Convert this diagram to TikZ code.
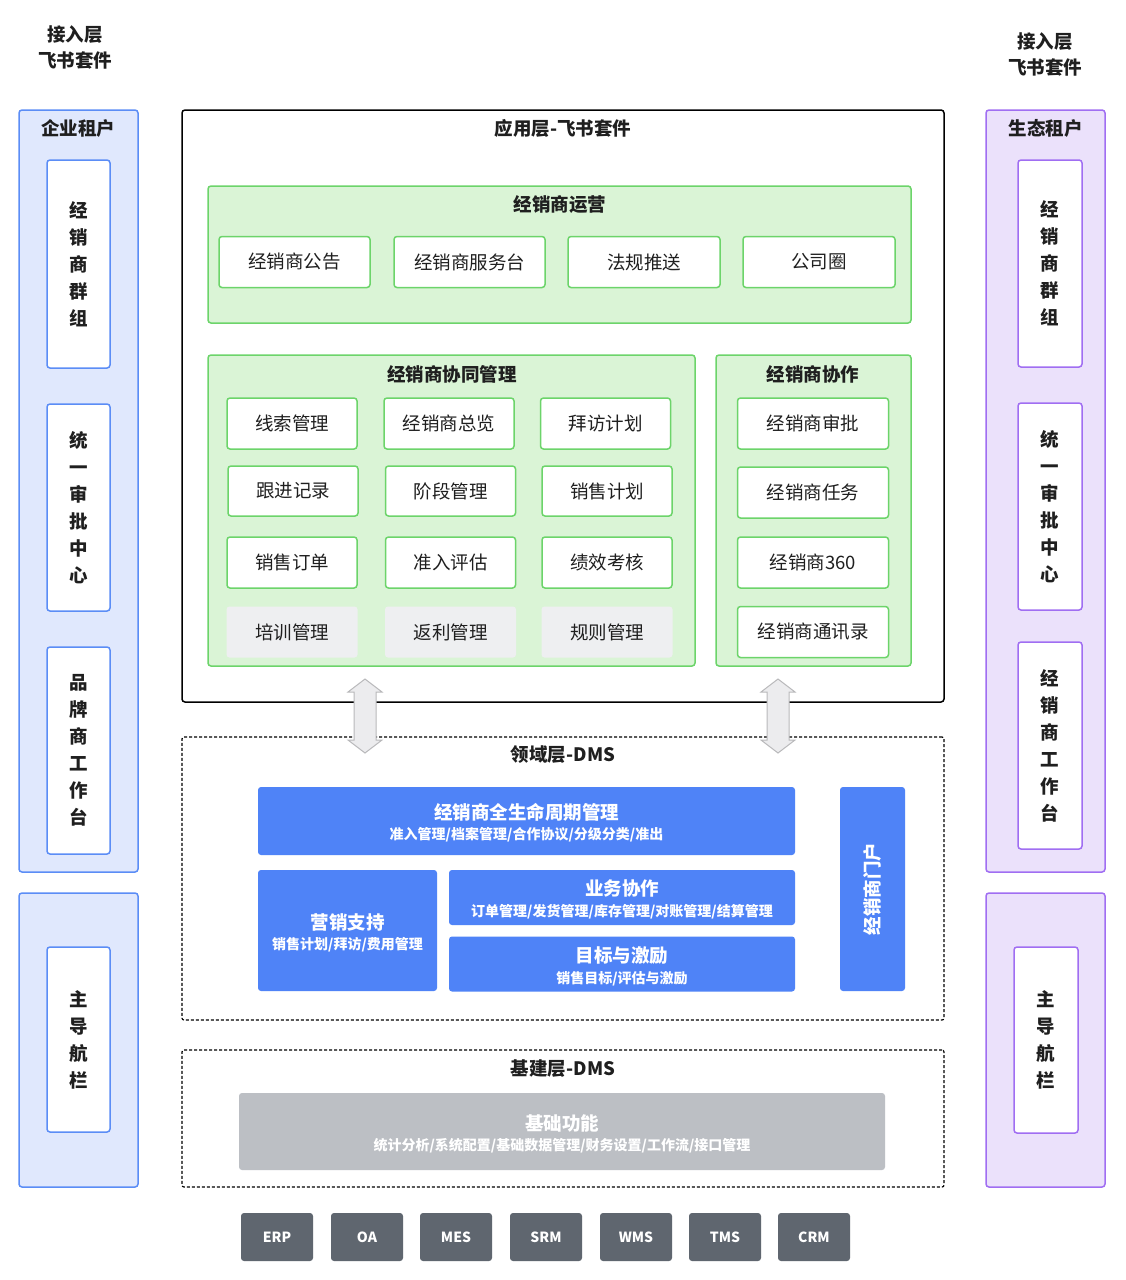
\documentclass[tikz,border=0pt]{standalone}
\usepackage{fontspec}
\setmainfont{Noto Sans CJK SC}
\usetikzlibrary{positioning}
\definecolor{txt}{HTML}{1F1F1F}
\definecolor{bfill}{HTML}{E0E8FD}
\definecolor{bline}{HTML}{5B8DF6}
\definecolor{pfill}{HTML}{EBE1FB}
\definecolor{pline}{HTML}{A06EF2}
\definecolor{gfill}{HTML}{DAF4D6}
\definecolor{gline}{HTML}{6CD46A}
\definecolor{cellgray}{HTML}{EEEFF1}
\definecolor{dmsblue}{HTML}{4F83F7}
\definecolor{basegray}{HTML}{BCBFC4}
\definecolor{sysgray}{HTML}{5F666F}
\definecolor{arrfill}{HTML}{ECECEE}
\definecolor{arrline}{HTML}{B9B9BB}
\tikzset{
  ttl/.style={font=\bfseries\fontsize{18.5}{22}\selectfont, text=txt, align=center},
  rect/.style={rounded corners=3pt, line width=1.5pt, inner sep=0pt, outer sep=0pt},
  bpanel/.style={rect, draw=bline, fill=bfill},
  ppanel/.style={rect, draw=pline, fill=pfill},
  bcell/.style={rect, draw=bline, fill=white},
  pcell/.style={rect, draw=pline, fill=white},
  vtxt/.style={font=\bfseries\fontsize{18.5}{27}\selectfont, text=txt, align=center},
  gpanel/.style={rect, draw=gline, fill=gfill},
  gcell/.style={rect, draw=gline, fill=white, font=\fontsize{18.5}{22}\selectfont, text=txt},
  ecell/.style={rect, fill=cellgray, font=\fontsize{18.5}{22}\selectfont, text=txt},
  dashbox/.style={draw=black, line width=1.2pt, dash pattern=on 3pt off 2pt, rounded corners=2pt},
  dms/.style={rect, fill=dmsblue, text=white, align=center},
  sys/.style={rect, fill=sysgray, text=white, font=\bfseries\fontsize{14}{16}\selectfont, minimum width=72, minimum height=48},
  dbl/.style={draw=arrline, fill=arrfill, line width=1pt, line join=miter},
}
\newcommand\bigtx[1]{{\bfseries\fontsize{18.5}{22}\selectfont #1}}
\newcommand\smltx[1]{{\bfseries\fontsize{14}{16}\selectfont #1}}
\begin{document}
\begin{tikzpicture}[x=1pt,y=-1pt]
\useasboundingbox[fill=white] (0,0) rectangle (1125,1280);

% access layer labels
\node[ttl] (accL) at (75,47) {接入层\\[4pt]飞书套件};
\node[ttl] (accR) at (1045,54) {接入层\\[4pt]飞书套件};

% left tenant panels
\node[bpanel, minimum width=119, minimum height=762] (entP) at (78.5,491) {};
\node[ttl] (entT) at (78.5,128) {企业租户};
\node[bcell, minimum width=63, minimum height=208] (lc1) at (78.5,264) {};
\node[vtxt] at (lc1) {经\\销\\商\\群\\组};
\node[bcell, minimum width=63, minimum height=207] (lc2) at (78.5,507.5) {};
\node[vtxt] at (lc2) {统\\一\\审\\批\\中\\心};
\node[bcell, minimum width=63, minimum height=207] (lc3) at (78.5,750.5) {};
\node[vtxt] at (lc3) {品\\牌\\商\\工\\作\\台};
\node[bpanel, minimum width=119, minimum height=294] (entN) at (78.5,1040) {};
\node[bcell, minimum width=63, minimum height=185] (lc4) at (78.5,1039.5) {};
\node[vtxt] at (lc4) {主\\导\\航\\栏};

% right tenant panels
\node[ppanel, minimum width=119, minimum height=762] (ecoP) at (1045.5,491) {};
\node[ttl] (ecoT) at (1045.5,128) {生态租户};
\node[pcell, minimum width=64, minimum height=207] (rc1) at (1050,263.5) {};
\node[vtxt] at (rc1) {经\\销\\商\\群\\组};
\node[pcell, minimum width=64, minimum height=207] (rc2) at (1050,506.5) {};
\node[vtxt] at (rc2) {统\\一\\审\\批\\中\\心};
\node[pcell, minimum width=64, minimum height=207] (rc3) at (1050,745.5) {};
\node[vtxt] at (rc3) {经\\销\\商\\工\\作\\台};
\node[ppanel, minimum width=119, minimum height=294] (ecoN) at (1045.5,1040) {};
\node[pcell, minimum width=64, minimum height=186] (rc4) at (1046,1040) {};
\node[vtxt] at (rc4) {主\\导\\航\\栏};

% application layer
\node[rect, draw=black, fill=white, rounded corners=3pt, minimum width=762, minimum height=592] (app) at (563,406) {};
\node[ttl] (appT) at (563,128) {应用层-飞书套件};

% dealer operation
\node[gpanel, minimum width=703, minimum height=137] (ops) at (559.5,254.5) {};
\node[ttl] (opsT) at (560,205) {经销商运营};
\node[gcell, minimum width=151, minimum height=51] (o1) at (294.5,262) {经销商公告};
\node[gcell, minimum width=151, minimum height=51] (o2) at (469.5,262) {经销商服务台};
\node[gcell, minimum width=152, minimum height=51] (o3) at (644,262) {法规推送};
\node[gcell, minimum width=152, minimum height=51] (o4) at (819,262) {公司圈};

% collaborative management
\node[gpanel, minimum width=487, minimum height=311] (col) at (451.5,510.5) {};
\node[ttl] (colT) at (452,374) {经销商协同管理};
\node[gcell, minimum width=130, minimum height=51] (c11) at (292,423.5) {线索管理};
\node[gcell, minimum width=130, minimum height=51] (c12) at (449,423.5) {经销商总览};
\node[gcell, minimum width=130, minimum height=51] (c13) at (605.5,423.5) {拜访计划};
\node[gcell, minimum width=130, minimum height=50] (c21) at (293,491) {跟进记录};
\node[gcell, minimum width=130, minimum height=50] (c22) at (450.5,491) {阶段管理};
\node[gcell, minimum width=130, minimum height=50] (c23) at (607,491) {销售计划};
\node[gcell, minimum width=130, minimum height=51] (c31) at (292,562.5) {销售订单};
\node[gcell, minimum width=130, minimum height=51] (c32) at (450.5,562.5) {准入评估};
\node[gcell, minimum width=130, minimum height=51] (c33) at (607,562.5) {绩效考核};
\node[ecell, minimum width=131, minimum height=51] (c41) at (292,632) {培训管理};
\node[ecell, minimum width=131, minimum height=51] (c42) at (450.5,632) {返利管理};
\node[ecell, minimum width=131, minimum height=51] (c43) at (607,632) {规则管理};

% dealer collaboration
\node[gpanel, minimum width=195, minimum height=311] (coop) at (813.5,510.5) {};
\node[ttl] (coopT) at (813,374) {经销商协作};
\node[gcell, minimum width=151, minimum height=51] (k1) at (813,423.5) {经销商审批};
\node[gcell, minimum width=151, minimum height=51] (k2) at (813,492.5) {经销商任务};
\node[gcell, minimum width=151, minimum height=51] (k3) at (813,562.5) {经销商360};
\node[gcell, minimum width=151, minimum height=51] (k4) at (813,632) {经销商通讯录};

% domain layer
\node[dashbox, minimum width=762, minimum height=283, inner sep=0pt] (dom) at (563,878.5) {};
\node[ttl] (domT) at (563,755) {领域层-DMS};
\node[dms, minimum width=537, minimum height=68] (life) at (526.5,821) {};
\node at (526.5,812) {\color{white}\bigtx{经销商全生命周期管理}};
\node at (526.5,835) {\color{white}\smltx{准入管理/档案管理/合作协议/分级分类/准出}};
\node[dms, minimum width=179, minimum height=121] (mkt) at (347.5,930.5) {};
\node at (347.5,922) {\color{white}\bigtx{营销支持}};
\node at (347.5,945) {\color{white}\smltx{销售计划/拜访/费用管理}};
\node[dms, minimum width=346, minimum height=55] (biz) at (622,897.5) {};
\node at (622,888) {\color{white}\bigtx{业务协作}};
\node at (622,912) {\color{white}\smltx{订单管理/发货管理/库存管理/对账管理/结算管理}};
\node[dms, minimum width=346, minimum height=55] (goal) at (622,964) {};
\node at (622,956) {\color{white}\bigtx{目标与激励}};
\node at (622,979) {\color{white}\smltx{销售目标/评估与激励}};
\node[dms, minimum width=65, minimum height=204] (portal) at (872.5,889) {};
\node[rotate=90] at (portal) {\color{white}\bigtx{经销商门户}};

% infrastructure layer
\node[dashbox, minimum width=762, minimum height=137, inner sep=0pt] (inf) at (563,1118.5) {};
\node[ttl] (infT) at (563,1069) {基建层-DMS};
\node[rect, fill=basegray, minimum width=646, minimum height=77] (base) at (562,1131.5) {};
\node at (562,1123) {\color{white}\bigtx{基础功能}};
\node at (562,1146) {\color{white}\smltx{统计分析/系统配置/基础数据管理/财务设置/工作流/接口管理}};

% external systems
\node[sys] (erp) at (277,1237) {ERP};
\node[sys] (oa)  at (367,1237) {OA};
\node[sys] (mes) at (456,1237) {MES};
\node[sys] (srm) at (546,1237) {SRM};
\node[sys] (wms) at (636,1237) {WMS};
\node[sys] (tms) at (725,1237) {TMS};
\node[sys] (crm) at (814,1237) {CRM};

% double arrows between layers
\foreach \cx/\nm in {365/a1, 778/a2}{
  \coordinate (\nm t) at (\cx,679);
  \coordinate (\nm b) at (\cx,753);
  \draw[dbl] (\nm t) -- ++(17,13) -- ++(-6,0) -- ++(0,48) -- ++(6,0) -- (\nm b)
     -- ++(-17,-13) -- ++(6,0) -- ++(0,-48) -- ++(-6,0) -- cycle;
}
\end{tikzpicture}
\end{document}
